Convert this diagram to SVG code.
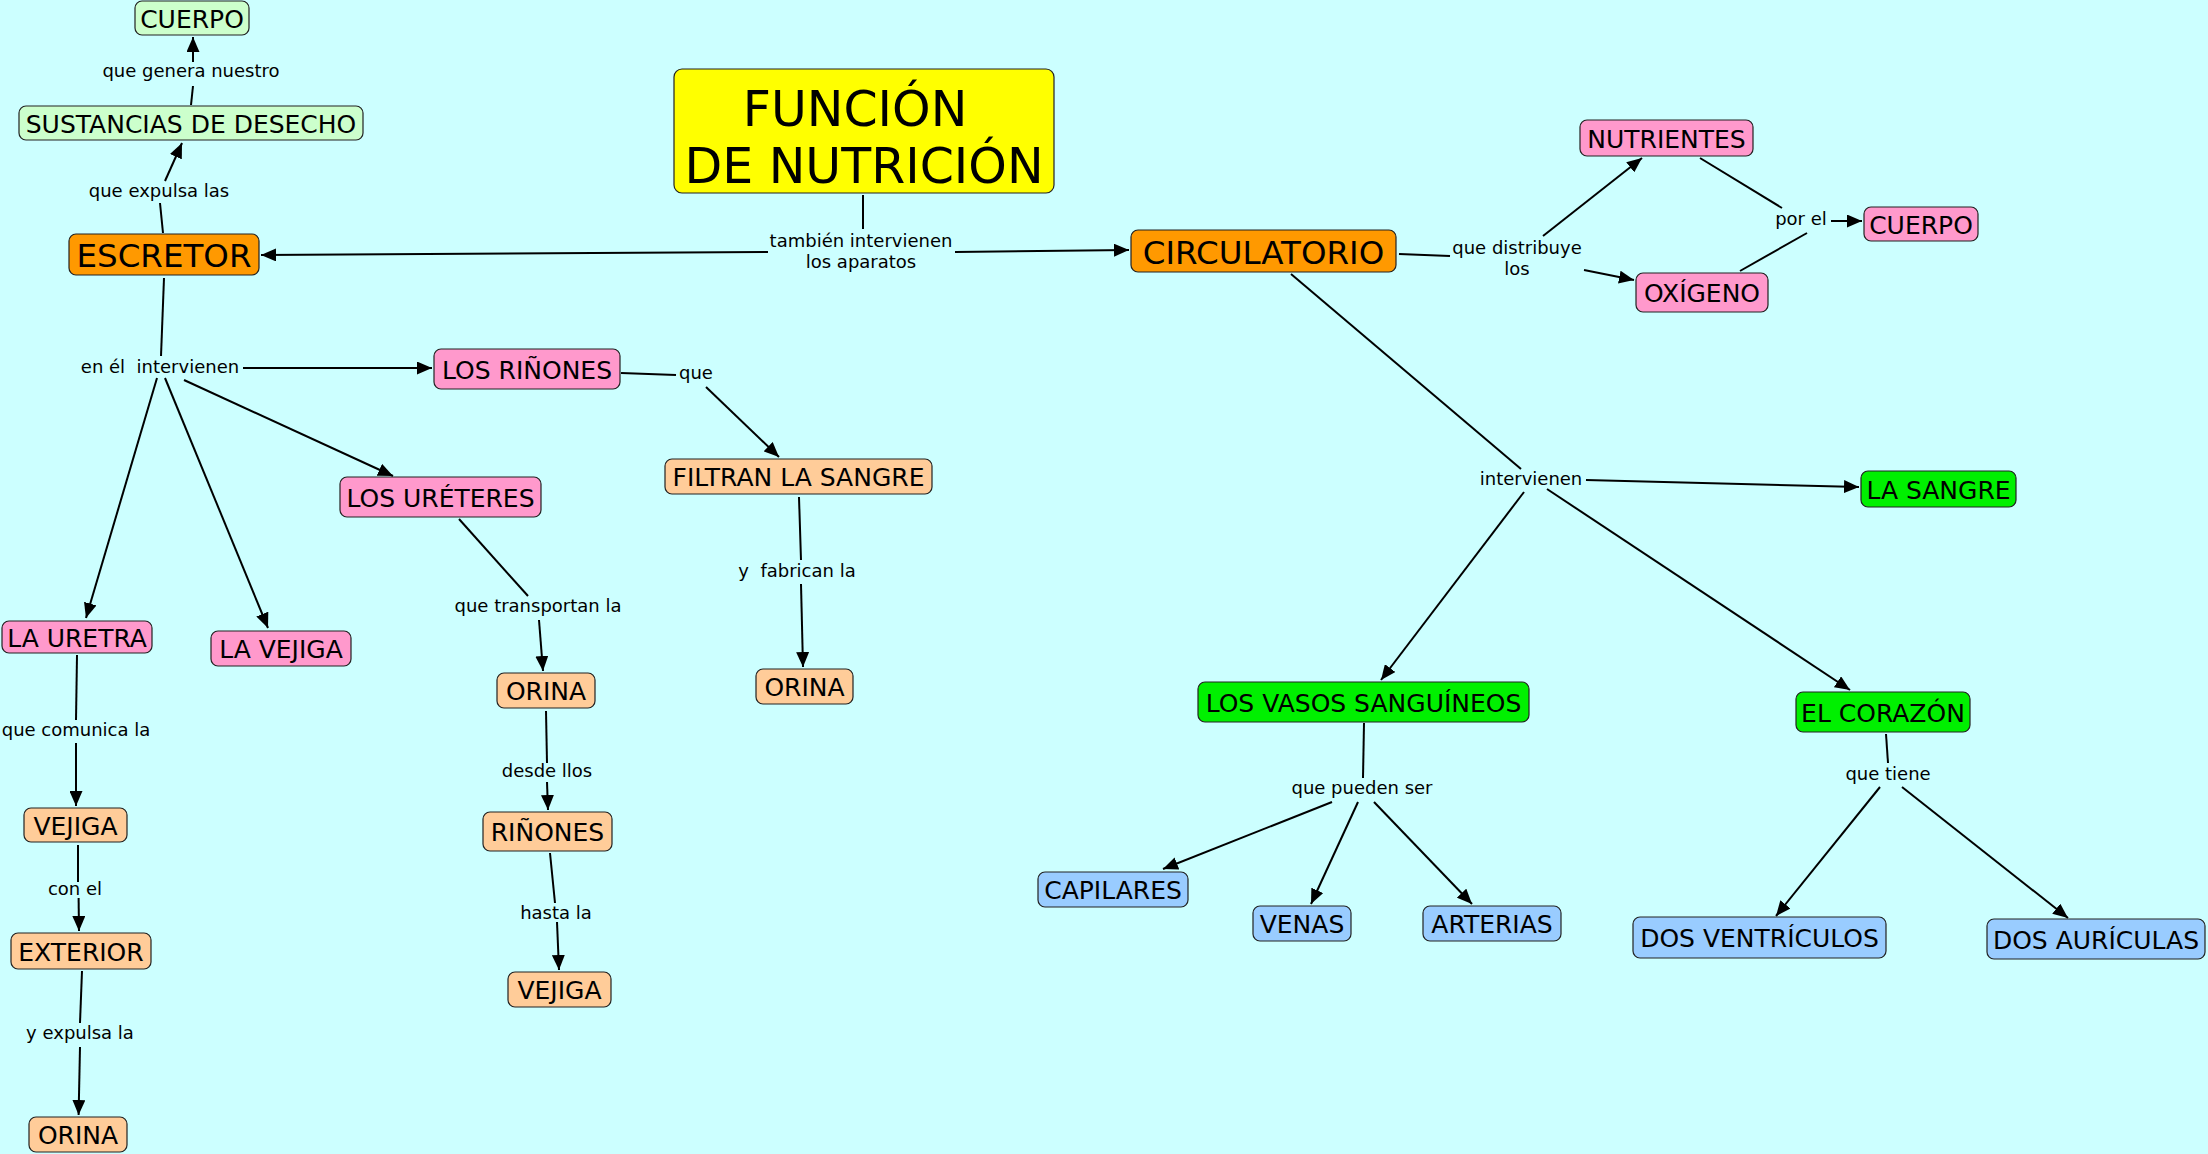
<svg xmlns="http://www.w3.org/2000/svg" width="2208" height="1154" viewBox="0 0 2208 1154">
<defs>
<style>
.n rect{stroke:#222;stroke-width:1.2}
.n text{font-family:"DejaVu Sans","Liberation Sans",sans-serif;font-size:25px;fill:#000;text-anchor:middle}
.big text{font-size:32.5px}
.green rect{fill:#CCFFCC}
.orange rect{fill:#FF9900}
.pink rect{fill:#FF99CC}
.peach rect{fill:#FFCC99}
.lime rect{fill:#00F000}
.blue rect{fill:#99CCFF}
.lbl{font-family:"DejaVu Sans","Liberation Sans",sans-serif;font-size:18px;fill:#000;text-anchor:middle}
#connectors line{stroke:#000;stroke-width:2}
#connectors line.a{marker-end:url(#arr)}
</style>
<marker id="arr" markerUnits="userSpaceOnUse" markerWidth="15" markerHeight="13" refX="15" refY="6.5" orient="auto">
<path d="M0,0 L15,6.5 L0,13 z" fill="#000"/>
</marker>
</defs>
<rect x="0" y="0" width="2208" height="1154" fill="#CCFFFF"/>

<g id="connectors">
<line x1="163" y1="233" x2="160" y2="203"/>
<line class="a" x1="165" y1="181" x2="182" y2="143"/>
<line x1="191" y1="105" x2="193" y2="86"/>
<line class="a" x1="193" y1="62" x2="193" y2="37"/>
<line x1="164" y1="278" x2="161" y2="356"/>
<line class="a" x1="243" y1="368" x2="432" y2="368"/>
<line class="a" x1="157" y1="378" x2="86" y2="618"/>
<line class="a" x1="165" y1="378" x2="268" y2="628"/>
<line class="a" x1="184" y1="380" x2="393" y2="476"/>
<line x1="621" y1="373" x2="676" y2="375"/>
<line class="a" x1="706" y1="387" x2="779" y2="457"/>
<line x1="799" y1="497" x2="801" y2="560"/>
<line class="a" x1="801" y1="584" x2="803" y2="667"/>
<line x1="459" y1="519" x2="528" y2="596"/>
<line class="a" x1="539" y1="620" x2="543" y2="671"/>
<line x1="546" y1="711" x2="547" y2="763"/>
<line class="a" x1="547" y1="782" x2="548" y2="810"/>
<line x1="550" y1="853" x2="555" y2="903"/>
<line class="a" x1="557" y1="922" x2="559" y2="970"/>
<line x1="77" y1="655" x2="76" y2="720"/>
<line class="a" x1="76" y1="743" x2="76" y2="806"/>
<line x1="78" y1="845" x2="78" y2="882"/>
<line class="a" x1="78.6" y1="898" x2="79" y2="931"/>
<line x1="82" y1="971" x2="80" y2="1023"/>
<line class="a" x1="80" y1="1047" x2="78.6" y2="1115"/>
<line x1="863" y1="195" x2="863" y2="229"/>
<line class="a" x1="768" y1="252" x2="261" y2="255"/>
<line class="a" x1="955" y1="252" x2="1129" y2="250"/>
<line x1="1399" y1="254" x2="1450" y2="256"/>
<line class="a" x1="1543" y1="236" x2="1642" y2="158"/>
<line class="a" x1="1584" y1="270" x2="1634" y2="280"/>
<line x1="1700" y1="158" x2="1782" y2="208"/>
<line x1="1740" y1="271" x2="1807" y2="233"/>
<line class="a" x1="1831" y1="221" x2="1862" y2="221"/>
<line x1="1291" y1="274" x2="1521" y2="469"/>
<line class="a" x1="1586" y1="480" x2="1859" y2="487"/>
<line class="a" x1="1524" y1="492" x2="1381" y2="680"/>
<line class="a" x1="1547" y1="489" x2="1850" y2="690"/>
<line x1="1364" y1="723" x2="1363" y2="778"/>
<line class="a" x1="1332" y1="802" x2="1163" y2="869"/>
<line class="a" x1="1358" y1="802" x2="1311" y2="904"/>
<line class="a" x1="1374" y1="802" x2="1472" y2="904"/>
<line x1="1886" y1="734" x2="1888" y2="763"/>
<line class="a" x1="1880" y1="787" x2="1776" y2="916"/>
<line class="a" x1="1902" y1="787" x2="2068" y2="918"/>
</g>

<g id="labels">
<text class="lbl" x="191" y="77">que genera nuestro</text>
<text class="lbl" x="159" y="197">que expulsa las</text>
<text class="lbl" x="160" y="373" xml:space="preserve">en él  intervienen</text>
<text class="lbl" x="861" y="247">también intervienen</text>
<text class="lbl" x="861" y="268">los aparatos</text>
<text class="lbl" x="696" y="379">que</text>
<text class="lbl" x="797" y="577" xml:space="preserve">y  fabrican la</text>
<text class="lbl" x="538" y="612">que transportan la</text>
<text class="lbl" x="547" y="777">desde llos</text>
<text class="lbl" x="556" y="919">hasta la</text>
<text class="lbl" x="76" y="736">que comunica la</text>
<text class="lbl" x="75" y="895">con el</text>
<text class="lbl" x="80" y="1039">y expulsa la</text>
<text class="lbl" x="1517" y="254">que distribuye</text>
<text class="lbl" x="1517" y="275">los</text>
<text class="lbl" x="1801" y="225">por el</text>
<text class="lbl" x="1531" y="485">intervienen</text>
<text class="lbl" x="1362" y="794">que pueden ser</text>
<text class="lbl" x="1888" y="780">que tiene</text>
</g>

<g id="n-title" class="n"><rect x="674" y="69" width="380" height="124" rx="8" fill="#FFFF00"/><text x="855" y="126" style="font-size:49px">FUNCIÓN</text><text x="864" y="183" style="font-size:49px">DE NUTRICIÓN</text></g>
<g id="n-cuerpo1" class="n green"><rect x="135" y="1" width="114" height="34" rx="7"/><text x="192" y="28">CUERPO</text></g>
<g id="n-sustancias" class="n green"><rect x="19" y="106" width="344" height="34" rx="7"/><text x="191" y="133">SUSTANCIAS DE DESECHO</text></g>
<g id="n-escretor" class="n orange big"><rect x="69" y="234" width="190" height="41" rx="7"/><text x="164" y="267">ESCRETOR</text></g>
<g id="n-rinones" class="n pink"><rect x="434" y="349" width="186" height="40" rx="7"/><text x="527" y="379">LOS RIÑONES</text></g>
<g id="n-filtran" class="n peach"><rect x="665" y="459" width="267" height="35" rx="7"/><text x="798.5" y="486">FILTRAN LA SANGRE</text></g>
<g id="n-orina-r" class="n peach"><rect x="756" y="669" width="97" height="35" rx="7"/><text x="804.5" y="696">ORINA</text></g>
<g id="n-ureteres" class="n pink"><rect x="340" y="477" width="201" height="40" rx="7"/><text x="440.5" y="507">LOS URÉTERES</text></g>
<g id="n-uretra" class="n pink"><rect x="2" y="621" width="150" height="32" rx="7"/><text x="77" y="647">LA URETRA</text></g>
<g id="n-lavejiga" class="n pink"><rect x="211" y="631" width="140" height="35" rx="7"/><text x="281" y="658">LA VEJIGA</text></g>
<g id="n-orina-m" class="n peach"><rect x="497" y="673" width="98" height="35" rx="7"/><text x="546" y="700">ORINA</text></g>
<g id="n-rinones2" class="n peach"><rect x="483" y="812" width="129" height="39" rx="7"/><text x="547.5" y="841">RIÑONES</text></g>
<g id="n-vejiga-m" class="n peach"><rect x="508" y="972" width="103" height="35" rx="7"/><text x="559.5" y="999">VEJIGA</text></g>
<g id="n-vejiga-l" class="n peach"><rect x="24" y="808" width="103" height="34" rx="7"/><text x="75.5" y="835">VEJIGA</text></g>
<g id="n-exterior" class="n peach"><rect x="11" y="933" width="140" height="36" rx="7"/><text x="81" y="961">EXTERIOR</text></g>
<g id="n-orina-l" class="n peach"><rect x="29" y="1117" width="98" height="35" rx="7"/><text x="78" y="1144">ORINA</text></g>
<g id="n-circulatorio" class="n orange big"><rect x="1131" y="230" width="265" height="42" rx="7"/><text x="1263.5" y="264">CIRCULATORIO</text></g>
<g id="n-nutrientes" class="n pink"><rect x="1580" y="120" width="173" height="36" rx="7"/><text x="1666.5" y="148">NUTRIENTES</text></g>
<g id="n-oxigeno" class="n pink"><rect x="1636" y="273" width="132" height="39" rx="7"/><text x="1702" y="302">OXÍGENO</text></g>
<g id="n-cuerpo2" class="n pink"><rect x="1864" y="207" width="114" height="34" rx="7"/><text x="1921" y="234">CUERPO</text></g>
<g id="n-sangre" class="n lime"><rect x="1861" y="471" width="155" height="36" rx="7"/><text x="1938.5" y="499">LA SANGRE</text></g>
<g id="n-vasos" class="n lime"><rect x="1198" y="682" width="331" height="40" rx="7"/><text x="1363.5" y="712">LOS VASOS SANGUÍNEOS</text></g>
<g id="n-corazon" class="n lime"><rect x="1796" y="692" width="174" height="40" rx="7"/><text x="1883" y="722">EL CORAZÓN</text></g>
<g id="n-capilares" class="n blue"><rect x="1038" y="872" width="150" height="35" rx="7"/><text x="1113" y="899">CAPILARES</text></g>
<g id="n-venas" class="n blue"><rect x="1253" y="906" width="98" height="35" rx="7"/><text x="1302" y="933">VENAS</text></g>
<g id="n-arterias" class="n blue"><rect x="1423" y="906" width="138" height="35" rx="7"/><text x="1492" y="933">ARTERIAS</text></g>
<g id="n-ventriculos" class="n blue"><rect x="1633" y="917" width="253" height="41" rx="7"/><text x="1759.5" y="947">DOS VENTRÍCULOS</text></g>
<g id="n-auriculas" class="n blue"><rect x="1987" y="919" width="218" height="40" rx="7"/><text x="2096" y="949">DOS AURÍCULAS</text></g>
</svg>
